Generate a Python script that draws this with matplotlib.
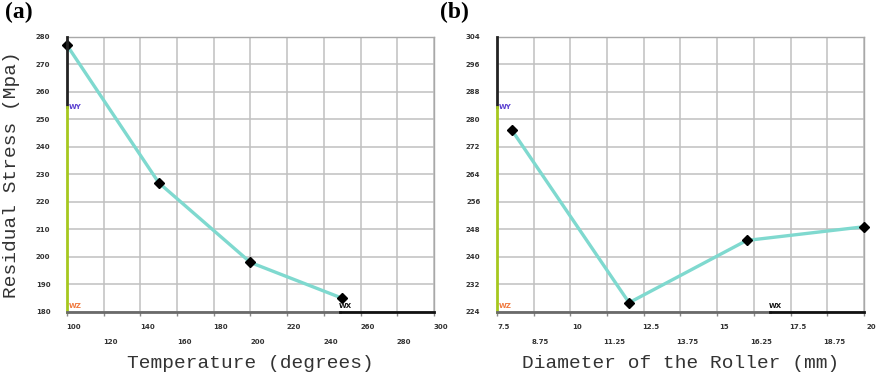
#!/usr/bin/env python3

import matplotlib
matplotlib.use("Agg")
import matplotlib.pyplot as plt
import matplotlib.transforms as mtransforms

# panel (a): residual stress vs temperature
temp_x = [100, 150, 200, 250]
temp_y = [277, 227, 198, 185]
temp_ticks_row1 = [100, 140, 180, 220, 260, 300]
temp_ticks_row2 = [120, 160, 200, 240, 280]
temp_yticks = [180, 190, 200, 210, 220, 230, 240, 250, 260, 270, 280]

# panel (b): residual stress vs roller diameter
diam_x = [8.0, 12.0, 16.0, 20.0]
diam_y = [277, 226.7, 244.8, 248.8]
diam_ticks_row1 = [7.5, 10, 12.5, 15, 17.5, 20]
diam_ticks_row2 = [8.75, 11.25, 13.75, 16.25, 18.75]
diam_yticks = [224, 232, 240, 248, 256, 264, 272, 280, 288, 296, 304]

LINE_COLOR = "#7fd9cf"
GRID_COLOR = "#c0c0c0"
MONO = "Liberation Mono"


def fmt(v):
    return f"{v:g}"


def style_panel(ax, fig, row1, row2, yticks, xlabel, ylabel=None):
    ax.set_xlim(min(row1), max(row1))
    ax.set_ylim(min(yticks), max(yticks))

    ax.set_xticks(row1)
    ax.set_xticklabels([fmt(v) for v in row1])
    ax.set_xticks(row2, minor=True)
    ax.set_xticklabels([fmt(v) for v in row2], minor=True)
    ax.set_yticks(yticks)
    ax.set_yticklabels([fmt(v) for v in yticks])

    ax.grid(True, which="both", color=GRID_COLOR, linewidth=1.1)
    ax.set_axisbelow(True)

    ax.tick_params(axis="x", which="major", length=3, width=1, color="#888888",
                   pad=5.5, labelsize=5, labelcolor="#333333")
    ax.tick_params(axis="x", which="minor", length=3, width=1, color="#888888",
                   pad=16.5, labelsize=5, labelcolor="#333333")
    ax.tick_params(axis="y", length=0, pad=12, labelsize=5, labelcolor="#333333")
    for lab in ax.get_xticklabels(which="both") + ax.get_yticklabels():
        lab.set_fontweight("bold")

    # labels sit a little right of their ticks in the original
    offset = mtransforms.ScaledTranslation(5 / 72, 0, fig.dpi_scale_trans)
    for lab in ax.get_xticklabels(which="both"):
        lab.set_transform(lab.get_transform() + offset)

    for side in ["top", "right"]:
        ax.spines[side].set_color("#a8a8a8")
        ax.spines[side].set_linewidth(1)
    ax.spines["left"].set_visible(False)
    ax.spines["bottom"].set_visible(False)

    split = 0.745
    ax.plot([0, 0], [split, 1], transform=ax.transAxes, color="#222222", lw=2, clip_on=False, zorder=4)
    ax.plot([0, 0], [0, split], transform=ax.transAxes, color="#a6c81e", lw=2, clip_on=False, zorder=4)
    ax.plot([0, split], [0, 0], transform=ax.transAxes, color="#6a6a6a", lw=2, clip_on=False, zorder=4)
    ax.plot([split, 1], [0, 0], transform=ax.transAxes, color="#111111", lw=2, clip_on=False, zorder=4)

    ax.text(0.005, split + 0.01, "WY", transform=ax.transAxes, fontsize=5, fontweight="bold",
            color="#5a3fd0", ha="left", va="top", zorder=5)
    ax.text(0.005, 0.012, "WZ", transform=ax.transAxes, fontsize=5, fontweight="bold",
            color="#f07a40", ha="left", va="bottom", zorder=5)
    ax.text(split - 0.005, 0.012, "WX", transform=ax.transAxes, fontsize=5, fontweight="bold",
            color="#111111", ha="left", va="bottom", zorder=5)

    ax.set_xlabel(xlabel, family=MONO, fontsize=14, color="#333333")
    ax.xaxis.set_label_coords(0.5, -0.155)
    if ylabel:
        ax.set_ylabel(ylabel, family=MONO, fontsize=14, color="#333333")
        ax.yaxis.set_label_coords(-0.15, 0.5)
        ax.yaxis.label.set_va("center")


def main():
    fig = plt.figure(figsize=(8.78, 3.79), dpi=100)
    ax1 = fig.add_axes([0.0763, 0.1768, 0.418, 0.7256])
    ax2 = fig.add_axes([0.566, 0.1768, 0.418, 0.7256])

    ax1.plot(temp_x, temp_y, color=LINE_COLOR, lw=2.4, marker="D", markersize=5.5,
             markerfacecolor="black", markeredgecolor="black", clip_on=False, zorder=3)
    style_panel(ax1, fig, temp_ticks_row1, temp_ticks_row2, temp_yticks,
                "Temperature (degrees)", "Residual Stress (Mpa)")

    ax2.plot(diam_x, diam_y, color=LINE_COLOR, lw=2.4, marker="D", markersize=5.5,
             markerfacecolor="black", markeredgecolor="black", clip_on=False, zorder=3)
    style_panel(ax2, fig, diam_ticks_row1, diam_ticks_row2, diam_yticks,
                "Diameter of the Roller (mm)")

    fig.text(0.006, 0.995, "(a)", family="Liberation Serif", fontweight="bold", fontsize=17,
             ha="left", va="top")
    fig.text(0.501, 0.995, "(b)", family="Liberation Serif", fontweight="bold", fontsize=17,
             ha="left", va="top")

    fig.savefig("out.png", dpi=100, facecolor="white")
    plt.close(fig)


if __name__ == "__main__":
    main()
